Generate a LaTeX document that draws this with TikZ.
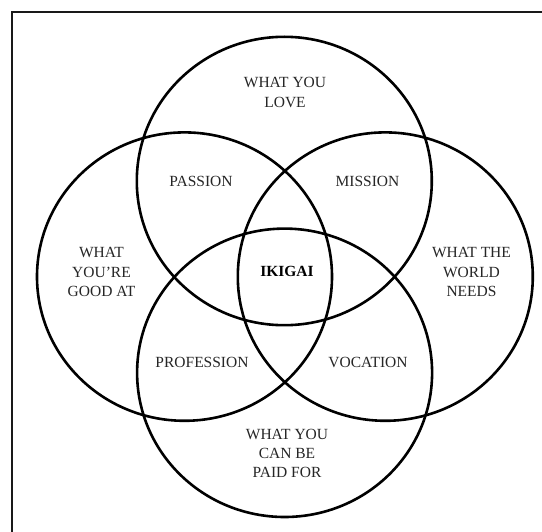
\documentclass[tikz,border=0pt]{standalone}
\usepackage{fontspec}
\setmainfont{Liberation Serif}
\begin{document}
\begin{tikzpicture}[x=1pt,y=-1pt,
  ring/.style={draw=black, line width=2.6pt},
  frame/.style={draw=black!90, line width=2.2pt},
  lbl/.style={text=black!85, font=\fontsize{15.5}{19.5}\selectfont, align=center, inner sep=0pt},
  core/.style={text=black, font=\fontsize{15.5}{19.5}\selectfont\bfseries, inner sep=0pt}]
\useasboundingbox (0,0) rectangle (542,532);
\fill[white] (0,0) rectangle (542,532);
\draw[frame] (12,560) -- (12,12) -- (560,12);
% circles
\draw[ring] (284.3,181) ellipse [x radius=147.5pt, y radius=144.2pt];
\draw[ring] (184.5,276.6) ellipse [x radius=147.5pt, y radius=144.2pt];
\draw[ring] (385.3,276.6) ellipse [x radius=147.5pt, y radius=144.2pt];
\draw[ring] (284.6,372.8) ellipse [x radius=147.5pt, y radius=144.2pt];
% labels (base anchor = baseline of the last line)
\node[lbl, anchor=base] (love) at (285,107.5) {WHAT YOU\\LOVE};
\node[lbl, anchor=base] (good) at (101.5,296.7) {WHAT\\YOU’RE\\GOOD AT};
\node[lbl, anchor=base] (world) at (471.5,296.7) {WHAT THE\\WORLD\\NEEDS};
\node[lbl, anchor=base] (paid) at (287,478) {WHAT YOU\\CAN BE\\PAID FOR};
\node[lbl, anchor=base] (passion) at (201,186.5) {PASSION};
\node[lbl, anchor=base] (mission) at (367.5,186.5) {MISSION};
\node[lbl, anchor=base] (profession) at (202,368) {PROFESSION};
\node[lbl, anchor=base] (vocation) at (368,368) {VOCATION};
\node[core, anchor=base] (ikigai) at (287,276.7) {IKIGAI};
\end{tikzpicture}
\end{document}
